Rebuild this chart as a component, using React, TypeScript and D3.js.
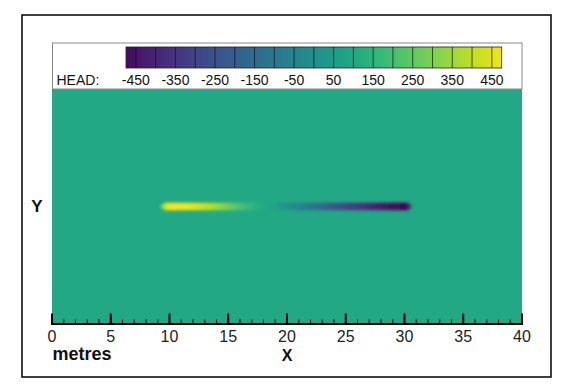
import React from "react";
import * as d3 from "d3";

// ---- data ----
const xTicksMajor = [0, 5, 10, 15, 20, 25, 30, 35, 40];
const xTicksMinor = d3.range(0, 41, 1);
const levelLines = d3.range(-450, 451, 50);
const levelLabels = [-450, -350, -250, -150, -50, 50, 150, 250, 350, 450];
const backgroundHead = 100;
// centreline head values along the streak (x in metres, head)
const streakX = [9.0, 9.4, 9.8, 10.5, 11.5, 12.5, 13.5, 14.5, 15.5, 16.5, 17.5, 18.5, 19.5, 20.5, 21.5, 22.5, 23.5, 24.5, 25.5, 26.5, 27.5, 28.5, 29.5, 30.0, 30.4, 30.8];
const streakHead = [100, 330, 480, 485, 470, 440, 390, 320, 250, 180, 125, 90, 40, -20, -80, -140, -200, -260, -310, -360, -410, -450, -480, -495, -420, 100];
const streakY = 10;

const W = 567;
const H = 385;
const FONT = "'Liberation Sans', Arial, Helvetica, sans-serif";

export default function App() {
  const x = d3.scaleLinear().domain([0, 40]).range([52, 522]);
  const y = d3.scaleLinear().domain([0, 20]).range([324, 89]);
  const color = (v: number) => d3.interpolateViridis((v + 500) / 1000);
  const cb = d3.scaleLinear().domain([-475, 475]).range([126, 501.7]);

  const cbStops = d3.range(-475, 476, 25);
  const x0 = streakX[0];
  const x1 = streakX[streakX.length - 1];
  const hw = 0.31;
  const shape: [number, number][] = [
    [x0 + 0.1, streakY],
    [x0 + 0.6, streakY + hw],
    [x1 - 0.5, streakY + hw],
    [x1 - 0.05, streakY],
    [x1 - 0.5, streakY - hw],
    [x0 + 0.6, streakY - hw],
  ];
  const line = d3
    .line<[number, number]>()
    .x((d) => x(d[0]))
    .y((d) => y(d[1]))
    .curve(d3.curveLinearClosed);

  return (
    <svg
      width={W}
      height={H}
      style={{ position: "absolute", left: 0, top: 0, background: "#fff" }}
      fontFamily={FONT}
    >
      <defs>
        <linearGradient id="cbGrad" gradientUnits="userSpaceOnUse" x1={cb(-475)} x2={cb(475)} y1={0} y2={0}>
          {cbStops.map((v) => (
            <stop key={v} offset={(v + 475) / 950} stopColor={color(v)} />
          ))}
        </linearGradient>
        <linearGradient id="streakGrad" gradientUnits="userSpaceOnUse" x1={x(x0)} x2={x(x1)} y1={0} y2={0}>
          {streakX.map((sx, i) => (
            <stop key={i} offset={(sx - x0) / (x1 - x0)} stopColor={color(streakHead[i])} />
          ))}
        </linearGradient>
        <filter id="blur" x="-10%" y="-200%" width="120%" height="500%">
          <feGaussianBlur stdDeviation="1.4" />
        </filter>
      </defs>

      {/* outer frame */}
      <rect x={22} y={15} width={529} height={362} fill="#fff" stroke="#000" strokeWidth={1.5} />

      {/* plot background */}
      <rect x={x(0)} y={y(20)} width={x(40) - x(0)} height={y(0) - y(20)} fill={color(backgroundHead)} />

      {/* streak */}
      <path d={line(shape) ?? ""} fill="url(#streakGrad)" filter="url(#blur)" />

      {/* legend box */}
      <rect x={52.5} y={43} width={469.5} height={46} fill="#fff" stroke="#8a8a8a" strokeWidth={1} />
      <rect x={cb(-475)} y={47} width={cb(475) - cb(-475)} height={21} fill="url(#cbGrad)" stroke="#222" strokeWidth={0.8} />
      {levelLines.map((v) => (
        <line key={v} x1={cb(v)} x2={cb(v)} y1={47} y2={68} stroke="#111" strokeWidth={0.7} />
      ))}
      <text x={56.5} y={85} fontSize={14} fill="#111">HEAD:</text>
      {levelLabels.map((v) => (
        <text key={v} x={cb(v)} y={85} fontSize={14} textAnchor="middle" fill="#111">
          {v}
        </text>
      ))}

      {/* x axis */}
      <line x1={x(0)} x2={x(40)} y1={324} y2={324} stroke="#000" strokeWidth={2} />
      {xTicksMinor.map((t) => (
        <line key={"m" + t} x1={x(t)} x2={x(t)} y1={324} y2={319} stroke="#000" strokeWidth={1} />
      ))}
      {xTicksMajor.map((t) => (
        <line key={"M" + t} x1={x(t)} x2={x(t)} y1={325} y2={313.5} stroke="#000" strokeWidth={2} />
      ))}
      {xTicksMajor.map((t) => (
        <text key={"l" + t} x={x(t)} y={342} fontSize={16} textAnchor="middle" fill="#222">
          {t}
        </text>
      ))}
      <text x={52.5} y={360} fontSize={18} fontWeight="bold" fill="#111">metres</text>
      <text x={287} y={361} fontSize={16} fontWeight="bold" textAnchor="middle" fill="#111">X</text>
      <text x={37} y={212} fontSize={17} fontWeight="bold" textAnchor="middle" fill="#111">Y</text>
    </svg>
  );
}
